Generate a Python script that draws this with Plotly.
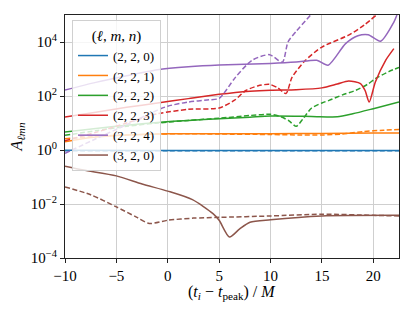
import plotly.graph_objects as go

# ---- data ----
labels = ["(2, 2, 0)", "(2, 2, 1)", "(2, 2, 2)", "(2, 2, 3)", "(2, 2, 4)", "(3, 2, 0)"]
colors = ["#1f77b4", "#ff7f0e", "#2ca02c", "#d62728", "#9467bd", "#8c564b"]

t_220 = [-10, 0, 10, 22.5]
a_220 = [0.97, 0.96, 0.95, 0.95]
t_220d = [-10, 0, 10, 22.5]
a_220d = [0.94, 0.94, 0.93, 0.93]

t_221 = [-10, -8, -6, -4, -2, 0, 5, 10, 15, 20, 22.5]
a_221 = [2.0, 2.7, 3.2, 3.6, 3.85, 4.0, 4.0, 4.0, 4.1, 4.25, 4.3]
t_221d = [-10, -7, -4, -1, 2, 5, 10, 13, 15, 17, 19, 21, 22.5]
a_221d = [2.6, 3.2, 3.6, 3.9, 4.0, 3.9, 3.75, 3.6, 3.6, 3.9, 4.8, 5.4, 5.7]

t_222 = [-10, -7, -4, -1, 2, 5, 8, 10, 14, 16.5, 18, 20, 22.5]
a_222 = [4.6, 6.3, 8.3, 10.5, 12.5, 14.5, 16.5, 18, 17.5, 17, 22, 34, 60]
t_222d = [-10, -7, -4, -1, 2, 5, 8, 10, 11, 11.8, 12.5, 13.2, 14, 15, 15.7, 17, 18.3, 19.5, 20.2, 21.5, 22.5]
a_222d = [3.5, 5.2, 7.5, 10, 12.5, 15, 19, 21, 17, 12, 7.5, 15, 36, 55, 69, 110, 162, 280, 440, 800, 1150]

t_223 = [-10, -7, -4, -1, 2, 5, 8, 10, 12.5, 15, 16.5, 17.6, 18.75, 19.2, 19.6, 20.2, 21.2, 22]
a_223 = [16.6, 25, 38, 55, 80, 115, 150, 165, 172, 200, 280, 360, 290, 160, 60, 330, 2100, 5700]
t_223d = [-10, -7, -4, -1, 2, 5, 6.5, 7.6, 8.8, 9.9, 10.7, 11.5, 12.1, 13.4, 15, 17.6, 19.1, 20.3]
a_223d = [2.2, 4.5, 10, 22, 32, 36, 70, 160, 240, 270, 200, 123, 500, 2100, 6500, 18000, 42000, 100000]

t_224 = [-10, -7, -4, -1, 2, 5, 10, 12.5, 14.5, 15.6, 17.3, 18.5, 19.5, 20.7, 22, 22.3]
a_224 = [166, 320, 560, 930, 1200, 1400, 1600, 1800, 2100, 1380, 8700, 17000, 18600, 10700, 55000, 100000]
t_224d = [-10, -7, -4, -1, 0, 2, 4, 5, 6.6, 8.2, 9.9, 11.15, 11.7, 12.5, 13.9]
a_224d = [0.75, 2.6, 8.7, 30, 42, 60, 72, 82, 500, 2100, 3400, 1800, 10000, 25000, 100000]

t_320 = [-10, -8.2, -5, -2.5, 0, 2.4, 4.4, 5, 6, 7, 8, 10, 15, 22.5]
a_320 = [0.25, 0.18, 0.11, 0.055, 0.030, 0.0145, 0.0044, 0.0025, 0.0006, 0.0012, 0.0021, 0.0026, 0.0036, 0.0038]
t_320d = [-10, -7.5, -5, -3, -1.8, 0, 2.5, 5, 10, 15, 20, 22.5]
a_320d = [0.043, 0.022, 0.0078, 0.0032, 0.0019, 0.0025, 0.0030, 0.0032, 0.0036, 0.0042, 0.0038, 0.0036]

solid = [(t_220, a_220), (t_221, a_221), (t_222, a_222), (t_223, a_223), (t_224, a_224), (t_320, a_320)]
dashed = [(t_220d, a_220d), (t_221d, a_221d), (t_222d, a_222d), (t_223d, a_223d), (t_224d, a_224d), (t_320d, a_320d)]

x_ticks = [-10, -5, 0, 5, 10, 15, 20]
x_ticktext = ["−10", "−5", "0", "5", "10", "15", "20"]
y_ticks = [1e-4, 1e-2, 1, 1e2, 1e4]
y_ticktext = ["10<sup>−4</sup>", "10<sup>−2</sup>", "10<sup>0</sup>", "10<sup>2</sup>", "10<sup>4</sup>"]

FONT = "Liberation Serif"

fig = go.Figure()
for i in range(len(labels)):
    ts, vs = solid[i]
    fig.add_trace(go.Scatter(x=ts, y=vs, mode="lines", name=labels[i],
                             line=dict(color=colors[i], width=1.5, shape="spline", smoothing=0.7)))
    td, vd = dashed[i]
    fig.add_trace(go.Scatter(x=td, y=vd, mode="lines", showlegend=False,
                             line=dict(color=colors[i], width=1.5, dash="5px,2.5px",
                                       shape="spline", smoothing=0.7)))

axis_common = dict(showline=True, linecolor="#222", linewidth=1, mirror=True,
                   ticks="outside", ticklen=4, tickcolor="#222",
                   showgrid=True, gridcolor="#cfcfcf", gridwidth=1, zeroline=False,
                   tickfont=dict(family=FONT, size=15, color="black"))

fig.update_xaxes(range=[-10, 22.5], tickvals=x_ticks, ticktext=x_ticktext, **axis_common)
fig.update_yaxes(type="log", range=[-4, 5], tickvals=y_ticks, ticktext=y_ticktext,
                 title=dict(text="<i>A<sub>ℓmn</sub></i>",
                            font=dict(family=FONT, size=16, color="black"), standoff=4),
                 **axis_common)

fig.add_annotation(text="(<i>t<sub>i</sub></i> − <i>t</i><sub>peak</sub>) / <i>M</i>",
                   xref="paper", yref="paper", x=0.5, y=-0.143, xanchor="center", yanchor="middle",
                   showarrow=False, font=dict(family=FONT, size=16, color="black"))

fig.update_layout(
    width=415, height=311,
    margin=dict(l=65, r=16, t=15, b=53),
    paper_bgcolor="white", plot_bgcolor="white",
    showlegend=True,
    legend=dict(x=0.021, y=0.979, xanchor="left", yanchor="top",
                bgcolor="rgba(255,255,255,0.8)", bordercolor="#d0d0d0", borderwidth=1,
                font=dict(family=FONT, size=13, color="black"),
                title=dict(text="(<i>ℓ</i>, <i>m</i>, <i>n</i>)", side="top center",
                           font=dict(family=FONT, size=15, color="black")),
                tracegroupgap=0, itemwidth=30),
)

fig.write_html("out.html", config={"displayModeBar": False},
               post_script="document.body.style.margin='0px';")
